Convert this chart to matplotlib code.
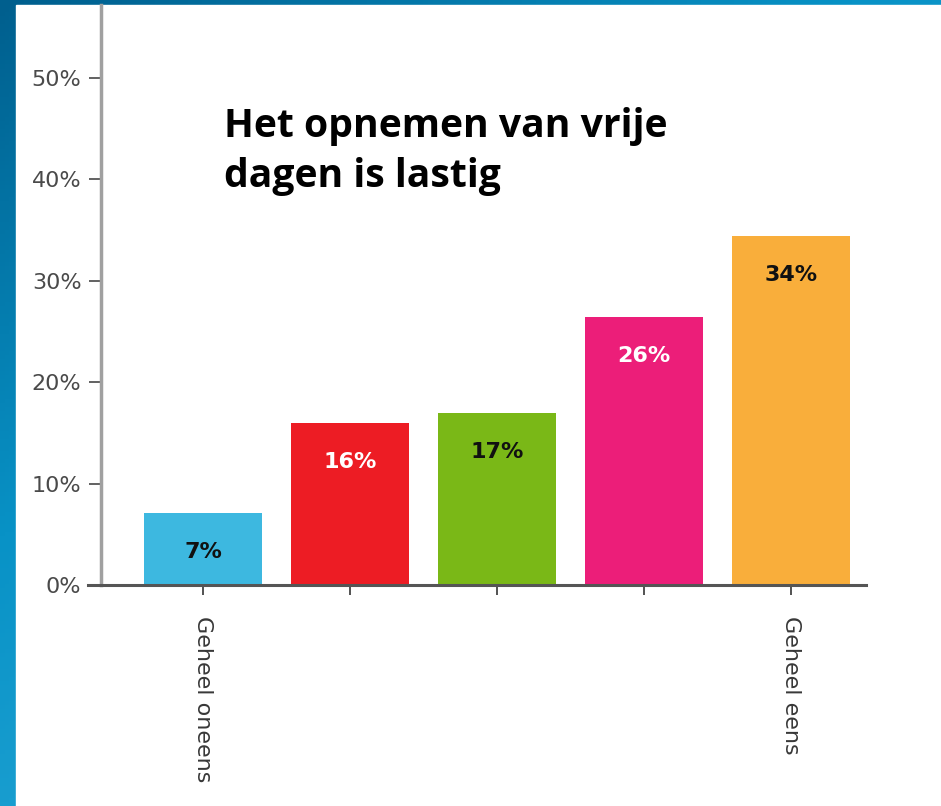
import numpy as np
import matplotlib.pyplot as plt
from matplotlib.colors import LinearSegmentedColormap

categories = ['Geheel oneens', '', '', '', 'Geheel eens']
values = [7.1, 16.0, 17.0, 26.4, 34.4]
labels = ['7%', '16%', '17%', '26%', '34%']
bar_colors = ['#3db8e0', '#ed1c24', '#7ab817', '#ec1e79', '#f9ae3b']
label_colors = ['#111111', '#ffffff', '#111111', '#ffffff', '#111111']
yticks = [0, 10, 20, 30, 40, 50]

fig = plt.figure(figsize=(9.41, 8.06), dpi=100)

# blue backdrop behind a white panel
bg = fig.add_axes([0, 0, 1, 1])
gx, gy = np.meshgrid(np.linspace(0, 1, 200), np.linspace(0, 1, 200))
grad = np.clip(0.55 * gx + 0.75 * gy, 0, 1)
cmap = LinearSegmentedColormap.from_list('bg', ['#005f8e', '#0892c6', '#28a8d8'])
bg.imshow(grad, cmap=cmap, aspect='auto', extent=[0, 1, 0, 1], origin='upper')
bg.add_patch(plt.Rectangle((16 / 941, 0), 1, 1 - 5 / 806, color='white'))
bg.set_xlim(0, 1)
bg.set_ylim(0, 1)
bg.axis('off')

ax = fig.add_axes([88 / 941, 221 / 806, 778 / 941, 580 / 806])
ax.patch.set_alpha(0)
x = np.arange(len(values))
ax.bar(x, values, width=0.8, color=bar_colors, zorder=2)
for xi, v, lab, c in zip(x, values, labels, label_colors):
    ax.annotate(lab, (xi, v), xytext=(0, -45), textcoords='offset pixels',
                ha='center', va='baseline', color=c, fontsize=16,
                fontweight='bold', zorder=3)

ax.set_xlim(-0.782, 4.51)
ax.set_ylim(0, 57.2)

for s in ['top', 'right']:
    ax.spines[s].set_visible(False)
ax.spines['left'].set_position(('data', -0.694))
ax.spines['left'].set_color('#a0a0a0')
ax.spines['left'].set_linewidth(2.5)
ax.spines['bottom'].set_color('#555555')
ax.spines['bottom'].set_linewidth(2.2)

ax.set_yticks(yticks)
ax.set_yticklabels([f'{t}%' for t in yticks])
ax.tick_params(axis='y', direction='out', length=9, width=1.3, color='#555555',
               labelsize=16, labelcolor='#4a4a4a', pad=5)
ax.set_xticks(x)
ax.set_xticklabels(categories, rotation=-90, va='top', ha='center')
ax.tick_params(axis='x', direction='inout', length=15, width=1.3, color='#444444',
               labelsize=16, labelcolor='#383838', pad=15)

fig.text(224 / 941, 1 - 107 / 806, 'Het opnemen van vrije\ndagen is lastig',
         fontsize=28.2, fontweight='bold', family='Open Sans', va='top',
         ha='left', linespacing=1.36, color='black')

fig.savefig('out.png', dpi=100)
